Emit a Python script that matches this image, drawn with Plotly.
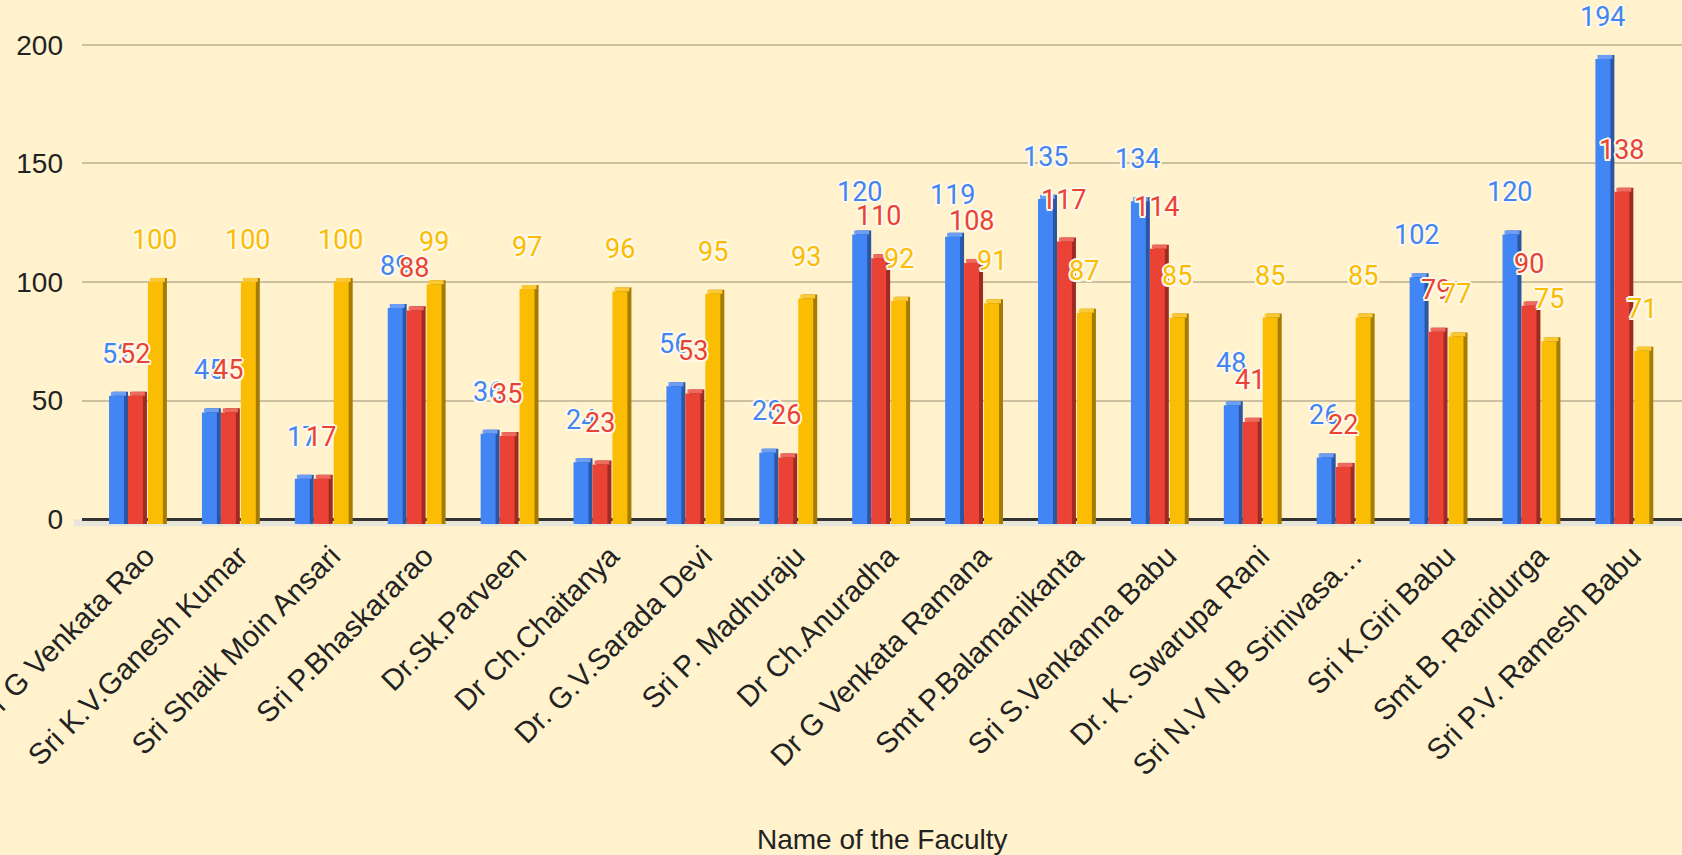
import plotly.graph_objects as go

# ---------------- data ----------------
faculty = [
    "Dr G Venkata Rao", "Sri K.V.Ganesh Kumar", "Sri Shaik Moin Ansari",
    "Sri P.Bhaskararao", "Dr.Sk.Parveen", "Dr Ch.Chaitanya",
    "Dr. G.V.Sarada Devi", "Sri P. Madhuraju", "Dr Ch.Anuradha",
    "Dr G Venkata Ramana", "Smt P.Balamanikanta", "Sri S.Venkanna Babu",
    "Dr. K. Swarupa Rani", "Sri N.V N.B Srinivasa…", "Sri K.Giri Babu",
    "Smt B. Ranidurga", "Sri P.V. Ramesh Babu",
]
blue_values = [52, 45, 17, 89, 36, 24, 56, 28, 120, 119, 135, 134, 48, 26, 102, 120, 194]
red_values = [52, 45, 17, 88, 35, 23, 53, 26, 110, 108, 117, 114, 41, 22, 79, 90, 138]
yellow_values = [100, 100, 100, 99, 97, 96, 95, 93, 92, 91, 87, 85, 85, 85, 77, 75, 71]
y_ticks = [0, 50, 100, 150, 200]
x_title = "Name of the Faculty"

# ---------------- styling ----------------
BG = "#FFF2CC"
CAT_PX = 92.9      # pixels per category
W = 0.161          # front face width (category units)
S = 0.043          # 3D side depth (category units)
D = 1.7            # 3D top depth (value units)
BELOW = 2.0        # bars sink slightly below the zero line
HALO_C = "#FFF9EA"
HALO = ", ".join(f"{dx}px {dy}px 0 {HALO_C}" for dx, dy in
                 [(2, 0), (-2, 0), (0, 2), (0, -2), (1.5, 1.5), (-1.5, 1.5), (1.5, -1.5), (-1.5, -1.5)])
AXIS_FONT = dict(family="Liberation Sans, Arial", size=28, color="#222222")
XTICK_FONT = dict(family="Liberation Sans, Arial", size=29.5, color="#222222")

series = [
    dict(vals=blue_values, off=-0.301, front="#4285F4", side="#2B56A3", top="#6C9EF5"),
    dict(vals=red_values, off=-0.097, front="#EA4335", side="#9E2B22", top="#EE6A5E"),
    dict(vals=yellow_values, off=0.118, front="#FBBC04", side="#A57C02", top="#FBC935"),
]

fig = go.Figure()
for sr in series:
    v = sr["vals"]
    fig.add_bar(x=faculty, y=[a + D + BELOW for a in v], base=-BELOW,
                offset=sr["off"] + S, width=W, marker_color=sr["side"],
                marker_line_width=0, hoverinfo="skip")
    fig.add_bar(x=faculty, y=[D] * len(v), base=v,
                offset=sr["off"] + S / 2, width=W, marker_color=sr["top"],
                marker_line_width=0, hoverinfo="skip")
    fig.add_bar(x=faculty, y=[a + BELOW for a in v], base=-BELOW,
                offset=sr["off"], width=W, marker_color=sr["front"],
                marker_line_width=0, customdata=v,
                hovertemplate="%{x}: %{customdata}<extra></extra>")

annotations = []
for sr in series:
    for cat, val in zip(faculty, sr["vals"]):
        annotations.append(dict(
            x=cat, y=val, xref="x", yref="y", text=str(val), showarrow=False,
            xshift=(sr["off"] + W / 2) * CAT_PX, yshift=42, yanchor="middle",
            font=dict(family="Roboto", size=27, color=sr["front"], shadow=HALO),
        ))
# axis title
annotations.append(dict(
    x=0.5, y=-0.604, xref="paper", yref="paper", text=x_title, showarrow=False,
    xanchor="center", yanchor="middle", font=AXIS_FONT,
))

fig.update_layout(
    width=1682, height=855,
    barmode="overlay",
    showlegend=False,
    paper_bgcolor=BG, plot_bgcolor=BG,
    margin=dict(l=82, r=0, t=21, b=324, autoexpand=False),
    annotations=annotations,
    shapes=[dict(type="rect", xref="paper", yref="y", x0=-0.005, x1=1, y0=-3, y1=0,
                 fillcolor="#E8E5DB", line_width=0, layer="below")],
    xaxis=dict(
        type="category", range=[-0.592, 16.631], tickangle=-45,
        tickfont=XTICK_FONT,
        showgrid=False, ticks="", automargin=False,
        ticklabelstandoff=1, ticklabelshift=9,
    ),
    yaxis=dict(
        range=[-5, 210], tickvals=y_ticks, ticktext=[str(t) for t in y_ticks],
        gridcolor="#CBC0A0", gridwidth=1.5,
        zeroline=True, zerolinecolor="#333333", zerolinewidth=2.5,
        tickfont=AXIS_FONT,
        ticks="", automargin=False, ticklabelstandoff=18,
    ),
)

fig.write_html(
    "out.html",
    config={"displayModeBar": False},
    post_script="document.body.style.margin='0';document.body.style.background='#FFF2CC';"
                "document.documentElement.style.overflow='hidden';",
)
